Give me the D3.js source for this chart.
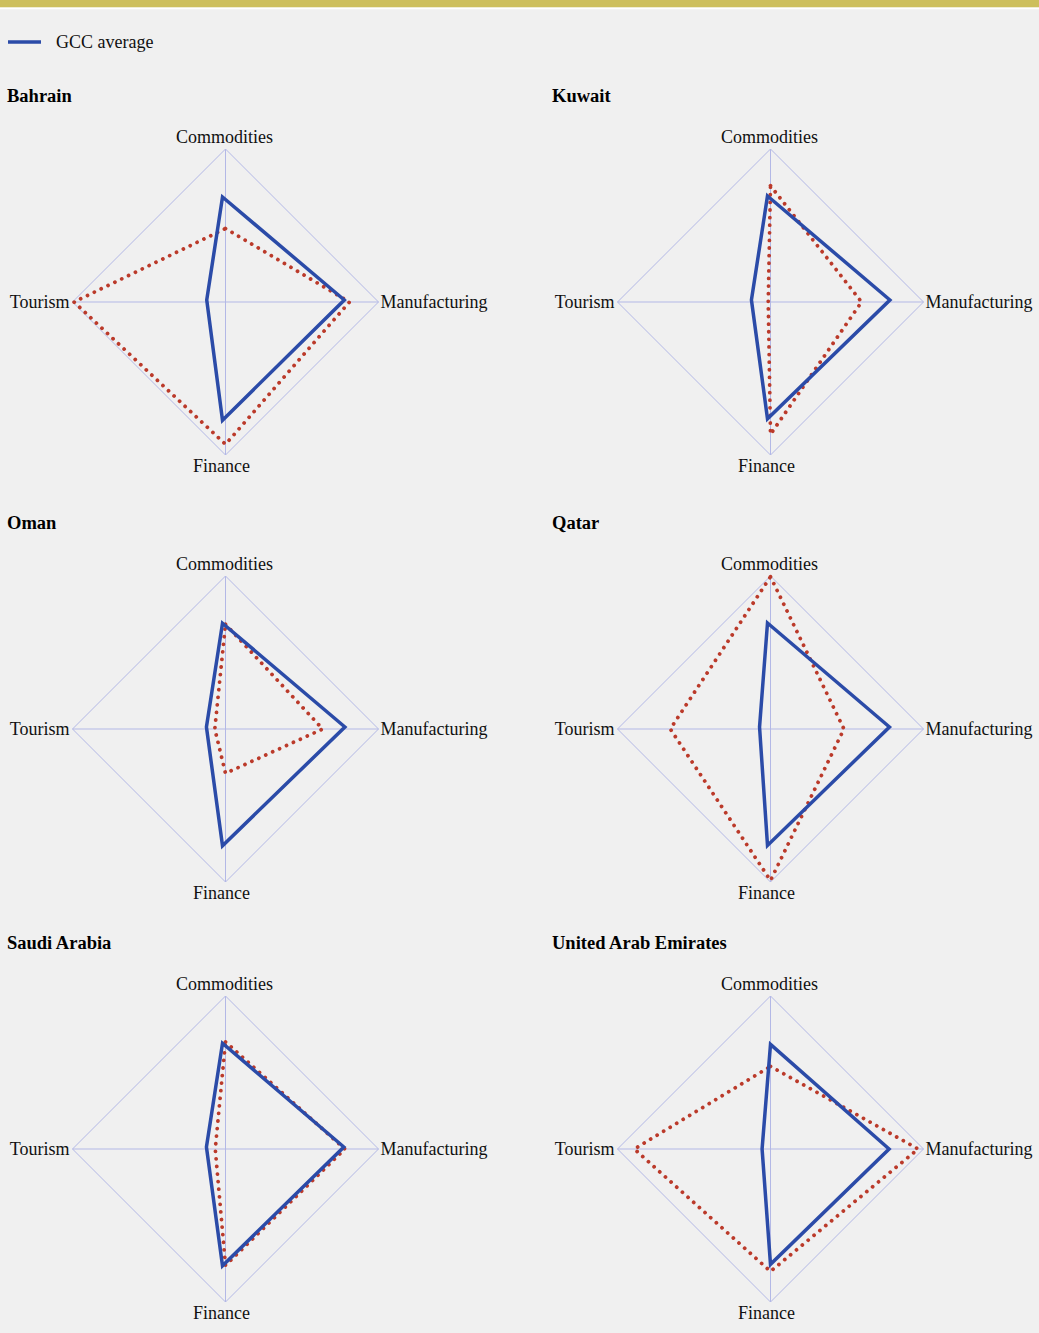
<!DOCTYPE html>
<html>
<head>
<meta charset="utf-8">
<script src="https://cdn.jsdelivr.net/npm/d3@7/dist/d3.min.js"></script>
<style>
  html, body { margin: 0; padding: 0; background: #f0f0f0; }
  svg { display: block; }
  text { font-family: "Liberation Serif", "Times New Roman", Tinos, serif; }
</style>
</head>
<body>
<script>
// ---- data ----
const axes = ["Commodities", "Manufacturing", "Finance", "Tourism"];
const countries = ["Bahrain", "Kuwait", "Oman", "Qatar", "Saudi Arabia", "United Arab Emirates"];
// country values (red dotted), order: Commodities, Manufacturing, Finance, Tourism
const bahrain = [0.48, 0.81, 0.93, 0.99];
const kuwait  = [0.76, 0.595, 0.865, 0.015];
const oman    = [0.685, 0.635, 0.29, 0.07];
const qatar   = [0.995, 0.48, 0.99, 0.655];
const saudi   = [0.70, 0.78, 0.76, 0.067];
const uae     = [0.54, 0.965, 0.80, 0.89];
// GCC average (blue solid), per panel
const gccBahrain = [0.673, 0.796, 0.786, 0.103];
const gccKuwait  = [0.68, 0.80, 0.776, 0.105];
const gccOman    = [0.678, 0.80, 0.776, 0.105];
const gccQatar   = [0.68, 0.797, 0.774, 0.052];
const gccSaudi   = [0.678, 0.793, 0.776, 0.105];
const gccUae     = [0.684, 0.775, 0.754, 0.055];
const legendLabel = "GCC average";

const countryValues = [bahrain, kuwait, oman, qatar, saudi, uae];
const gccValues = [gccBahrain, gccKuwait, gccOman, gccQatar, gccSaudi, gccUae];

// ---- layout ----
const W = 1039, H = 1333;
const colX = [225.5, 770.5];
const rowY = [302, 729, 1149];
const R = 153;
const blueShift = [[-3,-2],[-3,-2],[-3,-2],[-3,-2],[-3,-2],[0,0]];
const FONT = "'Liberation Serif', 'Times New Roman', Tinos, serif";

const svg = d3.select("body").append("svg").attr("width", W).attr("height", H);
svg.append("rect").attr("width", W).attr("height", H).attr("fill", "#f0f0f0");
svg.append("rect").attr("x", 0).attr("y", 0).attr("width", W).attr("height", 7.5).attr("fill", "#cdbf5d");
svg.append("rect").attr("x", 0).attr("y", 7.5).attr("width", W).attr("height", 1.8).attr("fill", "#ffffff");

// legend
const lg = svg.append("g");
lg.append("line").attr("x1", 8).attr("x2", 41).attr("y1", 42).attr("y2", 42)
  .attr("stroke", "#2b4ba8").attr("stroke-width", 3.5);
lg.append("text").attr("x", 56).attr("y", 48).text(legendLabel)
  .style("font-family", FONT).attr("font-size", 18).attr("fill", "#111");

const rScale = d3.scaleLinear().domain([0, 1]).range([0, R]);
const angle = d3.scalePoint().domain(axes).range([0, 1.5 * Math.PI]); // clockwise from top
const line = d3.lineRadial().angle((d, i) => angle(axes[i])).radius(d => rScale(d)).curve(d3.curveLinearClosed);

countries.forEach((name, k) => {
  const cx = colX[k % 2], cy = rowY[Math.floor(k / 2)];
  const g = svg.append("g").attr("transform", `translate(${cx},${cy})`);

  // title
  svg.append("text").attr("x", cx - 218.5).attr("y", cy - 200).text(name)
    .style("font-family", FONT).attr("font-size", 18.5).attr("font-weight", "bold").attr("fill", "#000");

  // grid: outer ring and spokes
  g.append("path").attr("d", line(axes.map(() => 1)))
    .attr("fill", "none").attr("stroke", "#b3b8e6").attr("stroke-width", 1);
  axes.forEach(a => {
    const ang = angle(a);
    g.append("line").attr("x1", 0).attr("y1", 0)
      .attr("x2", rScale(1) * Math.sin(ang)).attr("y2", -rScale(1) * Math.cos(ang))
      .attr("stroke", "#b3b8e6").attr("stroke-width", 1);
  });

  // axis labels
  const lbl = (t, x, y, anchor) => g.append("text").attr("x", x).attr("y", y).text(t)
    .attr("text-anchor", anchor).style("font-family", FONT).attr("font-size", 18).attr("fill", "#111");
  lbl(axes[0], -1, -R - 6, "middle");
  lbl(axes[1], R + 2, 6, "start");
  lbl(axes[2], -4, R + 17, "middle");
  lbl(axes[3], -R - 3, 6, "end");

  // country series (red dotted)
  g.append("path").attr("d", line(countryValues[k]))
    .attr("fill", "none").attr("stroke", "#bb3a2a").attr("stroke-width", 3.8)
    .attr("stroke-linecap", "round").attr("stroke-linejoin", "round")
    .attr("stroke-dasharray", "0.01 7.6");

  // GCC average (blue)
  g.append("path").attr("d", line(gccValues[k]))
    .attr("transform", `translate(${blueShift[k][0]},${blueShift[k][1]})`)
    .attr("fill", "none").attr("stroke", "#2b4ba8").attr("stroke-width", 3.5)
    .attr("stroke-linejoin", "miter");
});
</script>
</body>
</html>
